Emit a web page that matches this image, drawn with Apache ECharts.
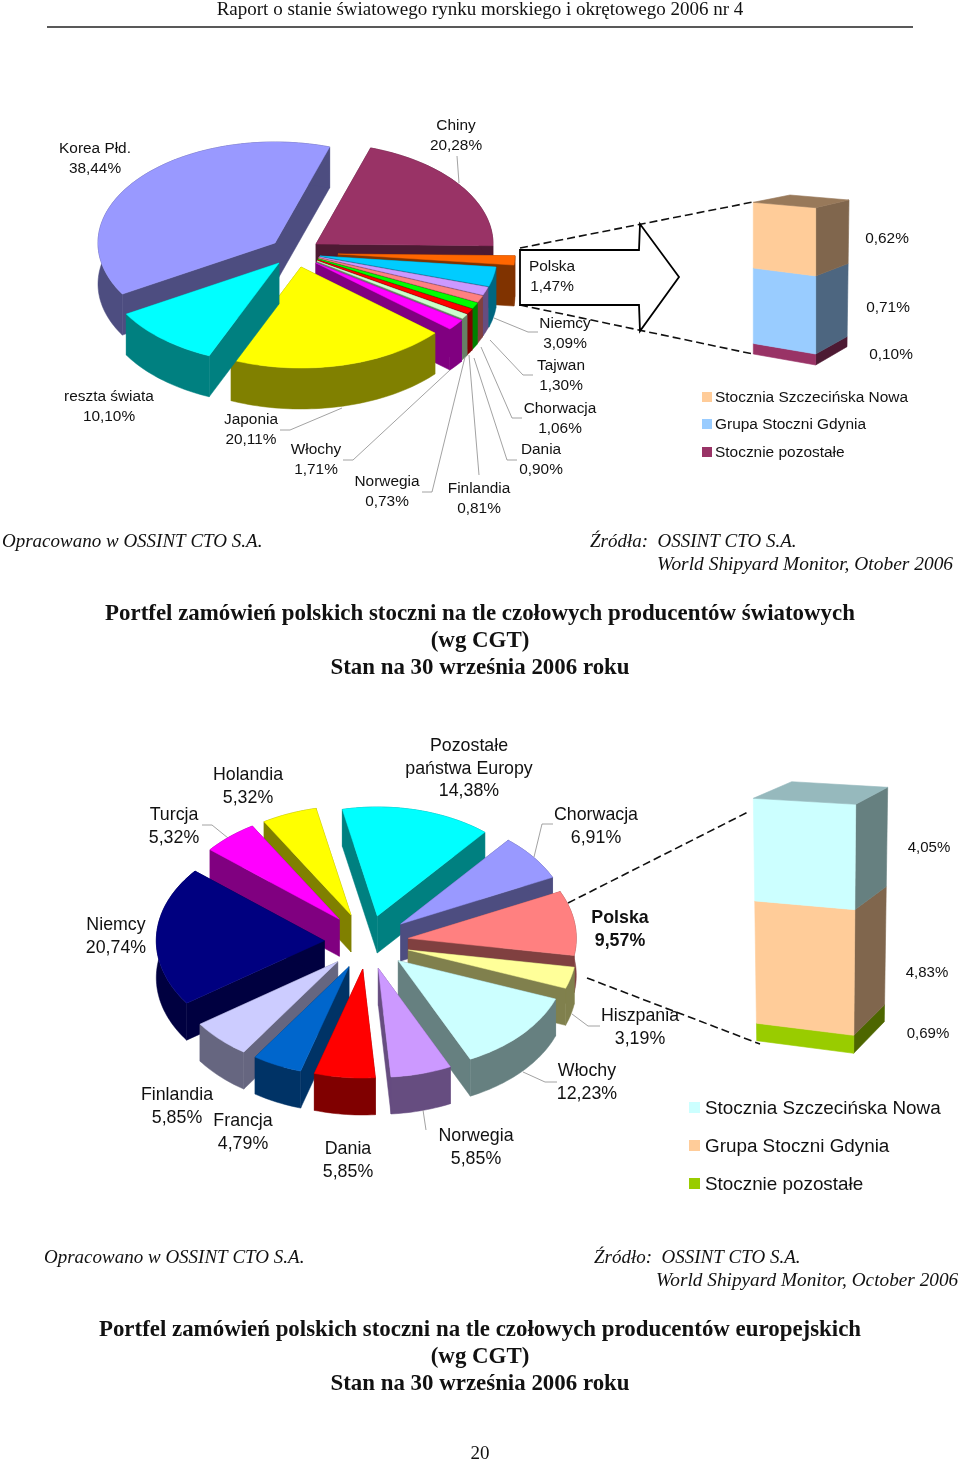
<!DOCTYPE html>
<html><head><meta charset="utf-8">
<script src="https://cdn.jsdelivr.net/npm/echarts@6/dist/echarts.min.js"></script>
<style>html,body{margin:0;padding:0;background:#fff}#c{width:960px;height:1462px}</style>
</head><body><div id="c"></div>
<script>
// ---------- data: chart 1 ----------
const world_names = ['Korea Płd.','Chiny','Polska','Niemcy','Tajwan','Chorwacja','Dania','Finlandia','Norwegia','Włochy','Japonia','reszta świata'];
const world_values = [38.44,20.28,1.47,3.09,1.30,1.06,0.90,0.81,0.73,1.71,20.11,10.10];
const world_colors = ['#9999ff','#993366','#ff6600','#00ccff','#cc99ff','#ff8080','#00ff00','#ff0000','#ccffcc','#ff00ff','#ffff00','#00ffff'];
const pl1_names = ['Stocznie pozostałe','Grupa Stoczni Gdynia','Stocznia Szczecińska Nowa'];
const pl1_values = [0.10,0.71,0.62];
const pl1_colors = ['#993366','#99ccff','#ffcc99'];
// ---------- data: chart 2 ----------
const eu_names = ['Pozostałe\npaństwa Europy','Chorwacja','Polska','Hiszpania','Włochy','Norwegia','Dania','Francja','Finlandia','Niemcy','Turcja','Holandia'];
const eu_values = [14.38,6.91,9.57,3.19,12.23,5.85,5.85,4.79,5.85,20.74,5.32,5.32];
const eu_colors = ['#00ffff','#9999ff','#ff8080','#ffff99','#ccffff','#cc99ff','#ff0000','#0066cc','#ccccff','#000080','#ff00ff','#ffff00'];
const pl2_names = ['Stocznie pozostałe','Grupa Stoczni Gdynia','Stocznia Szczecińska Nowa'];
const pl2_values = [0.69,4.83,4.05];
const pl2_colors = ['#99cc00','#ffcc99','#ccffff'];

// ---------- layout (not data) ----------
const pie1 = {rx:177, ry:101, depth:41, start:-120.4,
  apex:[[275,243],[316,244],[338,254],[320,256],[319,257],[318.5,258],[318,259],[317.5,260],[317,261],[316,263],[301,267],[279,263]],
  order:[0,1,2,3,4,5,6,7,8,9,10,11]};
const pie2 = {rx:168, ry:109, depth:37, start:-12,
  apex:[[377.3,916],[400.7,924],[408.3,938.3],[408.3,950],[398.3,960.7],[378.3,968.3],[362.7,969],[349,966.7],[337.7,961.7],[324.3,940.7],[339.3,919.3],[351,915]],
  order:[11,0,1,10,2,3,4,9,8,7,6,5]};
const bar1 = {edges:{fl:[753.3,354,753.3,202.3],fr:[815.7,365,815.7,207.7],br:[847,346.7,849,200],bl:[790,335,790,195]},
  shade:['#4d1a33','#4d6680','#80664d'], topColor:'#98795a'};
const bar2 = {edges:{fl:[756.7,1040.7,753.3,798.3],fr:[853.7,1053.3,855.7,804.3],br:[884.3,1021.7,887.7,787.3],bl:[791,1010,791.7,781.7]},
  shade:['#4d6600','#80664d','#668080'], topColor:'#96b9bd'};

function darker(hex){const n=parseInt(hex.slice(1),16);const f=v=>Math.round(v/2);
  return 'rgb('+f(n>>16&255)+','+f(n>>8&255)+','+f(n&255)+')';}

function pieSeries(values,colors,L){
  const total=values.reduce((a,b)=>a+b,0);
  let acc=0; const spans=values.map(v=>{const a=L.start+acc/total*360;acc+=v;return [a,L.start+acc/total*360];});
  return {type:'custom',coordinateSystem:'none',silent:true,animation:false,clip:false,
    data:L.order,
    renderItem(params,api){
      const i=L.order[params.dataIndex], [a0,a1]=spans[i], [cx,cy]=L.apex[i];
      const pt=d=>{const t=d*Math.PI/180;return [cx+L.rx*Math.sin(t),cy-L.ry*Math.cos(t)];};
      const arc=[];const n=Math.max(4,Math.ceil((a1-a0)/1.5));
      for(let k=0;k<=n;k++)arc.push(pt(a0+(a1-a0)*k/n));
      const down=p=>[p[0],p[1]+L.depth];
      const side=darker(colors[i]);
      const poly=(pts,fill)=>({type:'polygon',shape:{points:pts},style:{fill,stroke:fill,lineWidth:0.5}});
      const ch=[
        poly([[cx,cy],arc[0],down(arc[0]),[cx,cy+L.depth]],side),
        poly([[cx,cy],arc[n],down(arc[n]),[cx,cy+L.depth]],side),
        poly(arc.concat(arc.map(down).reverse()),side),
        poly([[cx,cy]].concat(arc),colors[i])
      ];
      return {type:'group',children:ch};
    }};
}

function barSeries(values,colors,L,gridIndex){
  const total=values.reduce((a,b)=>a+b,0);
  let acc=0; const rows=values.map((v,i)=>{const r=[0,acc,acc+v,i];acc+=v;return r;});
  return {type:'custom',coordinateSystem:'cartesian2d',xAxisIndex:gridIndex,yAxisIndex:gridIndex,silent:true,animation:false,clip:false,
    data:rows,encode:{x:0,y:[1,2]},
    renderItem(params,api){
      const lo=api.value(1),hi=api.value(2),i=api.value(3);
      const y0=api.coord([0,0])[1],yT=api.coord([0,total])[1];
      const v=(e,val)=>{const t=(y0-api.coord([0,val])[1])/(y0-yT);return [e[0]+(e[2]-e[0])*t,e[1]+(e[3]-e[1])*t];};
      const E=L.edges;
      const poly=(pts,fill,stroke)=>({type:'polygon',shape:{points:pts},style:{fill,stroke:stroke||fill,lineWidth:0.6}});
      const ch=[
        poly([v(E.fr,lo),v(E.br,lo),v(E.br,hi),v(E.fr,hi)],L.shade[i]),
        poly([v(E.fl,lo),v(E.fr,lo),v(E.fr,hi),v(E.fl,hi)],colors[i])
      ];
      if(i===values.length-1) ch.push(poly([v(E.fl,hi),v(E.fr,hi),v(E.br,hi),v(E.bl,hi)],L.topColor));
      return {type:'group',children:ch};
    }};
}

// ---------- text helpers ----------
const fmt=v=>v.toFixed(2).replace('.',',')+'%';
const SANS='"Liberation Sans",Arial,sans-serif', SERIF='"Liberation Serif","Times New Roman",serif';
const g=[];
function txt(text,x,y,font,align,fill){g.push({type:'text',x,y:y+1.2,z:20,silent:true,style:{text,font,fill:fill||'#111',textAlign:align||'center',textVerticalAlign:'middle'}});}
function line(pts,color,w,dash){g.push({type:'polyline',z:10,silent:true,shape:{points:pts},style:{stroke:color,lineWidth:w,fill:null,lineDash:dash||null}});}
function rect(x,y,w,h,fill){g.push({type:'rect',z:10,silent:true,shape:{x,y,width:w,height:h},style:{fill}});}
function labels(names,values,pos,font,gap){
  names.forEach((nm,i)=>{const ls=nm.split('\n').concat(fmt(values[i]));const [x,y]=pos[i];
    ls.forEach((s,k)=>txt(s,x,y+k*gap,typeof font==='function'?font(i):font));});
}

// header
txt('Raport o stanie światowego rynku morskiego i okrętowego 2006 nr 4',480,9,'19px '+SERIF);
line([[47,27],[913,27]],'#222',1.5);

// ---- chart 1 annotations ----
const leaders1=[
 [[457,156],[459,183]],
 [[494,318],[528,332],[538,332]],
 [[490,340],[523,375],[533,375]],
 [[481,347],[512,418],[522,418]],
 [[474,358],[507,460],[517,460]],
 [[469,355],[479,475]],
 [[465,357],[432,492],[422,492]],
 [[450,370],[353,460],[343,460]],
 [[342,408],[290,430],[280,430]]
];
leaders1.forEach(p=>line(p,'#8a8a8a',0.8));
labels(world_names,world_values,[[95,148],[456,125],[552,266],[565,323],[561,365],[560,408],[541,449],[479,488],[387,481],[316,449],[251,419],[109,396]],'15.4px '+SANS,19.5);
// arrow box
g.push({type:'polygon',z:12,silent:true,shape:{points:[[520,250],[639,250],[640,224],[679,277],[640,331],[639,305],[520,305]]},style:{fill:'#fff',stroke:'#000',lineWidth:1.8}});
line([[520,248],[753,202]],'#111',1.6,[8,4]);
line([[520,305],[753,354]],'#111',1.6,[8,4]);
txt(fmt(0.62),887,238,'15.4px '+SANS);
txt(fmt(0.71),888,307,'15.4px '+SANS);
txt(fmt(0.10),891,354,'15.4px '+SANS);
[['Stocznia Szczecińska Nowa',397,'#ffcc99'],['Grupa Stoczni Gdynia',424,'#99ccff'],['Stocznie pozostałe',452,'#993366']].forEach(r=>{
  rect(702,r[1]-5,10,10,r[2]);txt(r[0],715,r[1],'15.45px '+SANS,'left');});
const IT='italic 19px '+SERIF;
txt('Opracowano w OSSINT CTO S.A.',2,541,IT,'left');
txt('Źródła:  OSSINT CTO S.A.',590,541,IT,'left');
txt('World Shipyard Monitor, Otober 2006',657,564,'italic 19.45px '+SERIF,'left');
const TB='bold 22.9px '+SERIF;
txt('Portfel zamówień polskich stoczni na tle czołowych producentów światowych',480,613,TB);
txt('(wg CGT)',480,640,TB);
txt('Stan na 30 września 2006 roku',480,667,TB);

// ---- chart 2 annotations ----
const leaders2=[
 [[202,825],[212,825],[228,838]],
 [[553,824],[542,824],[534,857]],
 [[572,1014],[588,1026],[600,1026]],
 [[523,1072],[545,1082],[557,1082]],
 [[423,1110],[426,1130]]
];
leaders2.forEach(p=>line(p,'#8a8a8a',0.8));
line([[568,903],[750,811]],'#111',1.6,[8,4]);
line([[587,978],[760,1044]],'#111',1.6,[8,4]);
labels(eu_names,eu_values,[[469,745],[596,814],[620,917],[640,1015],[587,1070],[476,1135],[348,1148],[243,1120],[177,1094],[116,924],[174,814],[248,774]],
  i=>(i===2?'bold ':'')+'17.8px '+SANS,22.5);
txt(fmt(4.05),929,847,'15px '+SANS);
txt(fmt(4.83),927,972,'15px '+SANS);
txt(fmt(0.69),928,1033,'15px '+SANS);
[['Stocznia Szczecińska Nowa',1108,'#ccffff'],['Grupa Stoczni Gdynia',1146,'#ffcc99'],['Stocznie pozostałe',1184,'#99cc00']].forEach(r=>{
  rect(689,r[1]-6,11,11,r[2]);txt(r[0],705,r[1],'18.85px '+SANS,'left');});
txt('Opracowano w OSSINT CTO S.A.',44,1257,IT,'left');
txt('Źródło:  OSSINT CTO S.A.',594,1257,IT,'left');
txt('World Shipyard Monitor, October 2006',656,1280,'italic 19.3px '+SERIF,'left');
txt('Portfel zamówień polskich stoczni na tle czołowych producentów europejskich',480,1329,TB);
txt('(wg CGT)',480,1356,TB);
txt('Stan na 30 września 2006 roku',480,1383,TB);
txt('20',480,1453,'19px '+SERIF);

const chart=echarts.init(document.getElementById('c'),null,{renderer:'canvas'});
const ax={show:false};
chart.setOption({
  animation:false, backgroundColor:'#fff',
  grid:[{left:0,right:0,top:200,height:160},{left:0,right:0,top:790,height:260}],
  xAxis:[{type:'value',min:0,max:1,gridIndex:0,...ax},{type:'value',min:0,max:1,gridIndex:1,...ax}],
  yAxis:[{type:'value',min:0,max:pl1_values.reduce((a,b)=>a+b,0),gridIndex:0,...ax},{type:'value',min:0,max:pl2_values.reduce((a,b)=>a+b,0),gridIndex:1,...ax}],
  series:[pieSeries(world_values,world_colors,pie1),pieSeries(eu_values,eu_colors,pie2),
          barSeries(pl1_values,pl1_colors,bar1,0),barSeries(pl2_values,pl2_colors,bar2,1)],
  graphic:{elements:g}
});
</script></body></html>
